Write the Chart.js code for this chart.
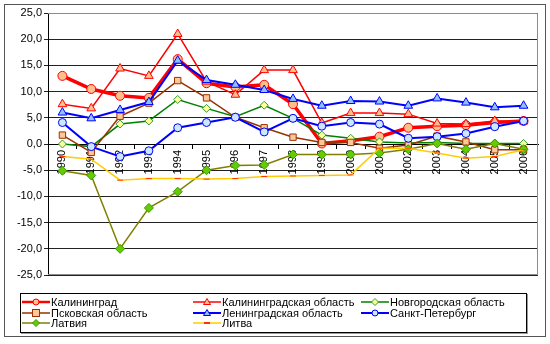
<!DOCTYPE html>
<html>
<head>
<meta charset="utf-8">
<script src="https://cdn.jsdelivr.net/npm/chart.js@4.4.0/dist/chart.umd.min.js"></script>
<style>
    body { margin: 0; background: #fff; }
    #wrap { position: relative; width: 550px; height: 344px; font-family: "Liberation Sans", Arial, sans-serif; }
    #frame { position: absolute; left: 4px; top: 4px; width: 542px; height: 333px; border: 1px solid #555; box-sizing: border-box; pointer-events: none; }
    #legend { position: absolute; left: 20px; top: 293px; width: 507px; height: 40px; border: 1px solid #000; box-sizing: border-box; box-shadow: 1px 1px 0 #999; background: #fff; }
    .item { position: absolute; height: 12px; line-height: 12px; font-size: 11px; color: #000; white-space: nowrap; }
    .item svg { vertical-align: top; margin-right: 1px; }
</style>
</head>
<body>
<div id="wrap">
    <canvas id="chart" width="550" height="344"></canvas>
    <div id="frame"></div>
    <div id="legend"></div>
</div>
<script>
// years on the x axis
var years = ['1990','1991','1992','1993','1994','1995','1996','1997','1998',
             '1999','2000','2001','2002','2003','2004','2005','2006'];

var seriesNames = ['Калининград', 'Калининградская область', 'Новгородская область',
                   'Псковская область', 'Ленинградская область', 'Санкт-Петербург',
                   'Латвия', 'Литва'];

var kaliningrad = [13.0, 10.5, 9.2, 8.8, 16.2, 11.6, 10.9, 11.3, 7.6, 0.1, 0.6, 1.4, 3.1, 3.4, 3.6, 4.1, 4.4];
var kalObl      = [7.6, 6.8, 14.4, 13.0, 21.0, 11.9, 9.4, 14.1, 14.1, 4.0, 5.9, 5.9, 5.7, 3.9, 3.8, 4.4, 4.3];
var novgorod    = [0.0, -0.5, 3.8, 4.4, 8.5, 6.8, 5.2, 7.4, 4.9, 1.7, 1.1, 0.4, 0.2, 0.3, 0.1, 0.1, 0.1];
var pskov       = [1.7, -1.6, 5.3, 7.8, 12.1, 8.8, 5.1, 3.1, 1.3, 0.3, 0.3, -0.8, -0.2, 1.5, 0.4, -1.1, -1.1];
var leningrad   = [6.0, 4.9, 6.5, 8.0, 15.9, 12.2, 11.3, 10.3, 8.6, 7.3, 8.2, 8.1, 7.3, 8.7, 7.9, 7.0, 7.3];
var spb         = [4.1, -0.5, -2.4, -1.3, 3.1, 4.1, 5.1, 2.3, 4.9, 3.4, 4.1, 3.8, 1.1, 1.4, 2.0, 3.3, 4.4];
var latvia      = [-5.1, -6.0, -20.0, -12.2, -9.1, -5.0, -4.1, -4.0, -2.0, -2.0, -2.0, -1.7, -1.0, 0.1, -1.0, 0.1, -1.0];
var lithuania   = [-2.4, -2.9, -6.9, -6.6, -6.6, -6.7, -6.6, -6.2, -6.1, -6.0, -5.9, -0.8, -0.8, -1.7, -2.7, -2.4, -1.1];

var values = [kaliningrad, kalObl, novgorod, pskov, leningrad, spb, latvia, lithuania];

// line / marker look per series
var styles = [
    { line: '#ff0000', width: 3.5, shape: 'circle',   r: 4.5, fill: '#ffbf8c', edge: '#ff0000' },
    { line: '#ff0000', width: 1.5, shape: 'triangle', r: 5,   fill: '#ffbf8c', edge: '#ff0000' },
    { line: '#008000', width: 1.5, shape: 'rectRot',  r: 4,   fill: '#ffff99', edge: '#339933' },
    { line: '#993300', width: 1.5, shape: 'rect',     r: 4.5, fill: '#ffc799', edge: '#993300' },
    { line: '#0000ff', width: 2,   shape: 'triangle', r: 5,   fill: '#8fc0ff', edge: '#0000ff' },
    { line: '#0000ff', width: 2,   shape: 'circle',   r: 4,   fill: '#cce8ff', edge: '#0000ff' },
    { line: '#808000', width: 1.5, shape: 'rectRot',  r: 4.5, fill: '#66cc00', edge: '#339900' },
    { line: '#ffcc00', width: 1.5, shape: 'line',     r: 3,   fill: '#ff0000', edge: '#ff3300' }
];

var fontFamily = '"Liberation Sans", Arial, sans-serif';

var datasets = [];
for (var i = 0; i < values.length; i++) {
    var s = styles[i];
    datasets.push({
        label: seriesNames[i],
        data: values[i],
        borderColor: s.line,
        borderWidth: s.width,
        pointStyle: s.shape,
        pointRadius: s.r,
        pointBackgroundColor: s.fill,
        pointBorderColor: s.edge,
        pointBorderWidth: 1,
        tension: 0,
        fill: false,
        order: values.length - i
    });
}

// grey frame round the plot area
var plotFrame = {
    id: 'plotFrame',
    beforeDatasetsDraw: function (chart) {
        var a = chart.chartArea, c = chart.ctx;
        c.save();
        c.strokeStyle = '#8c8c8c';
        c.lineWidth = 1;
        c.beginPath();
        c.moveTo(a.left, a.top + 0.5);
        c.lineTo(a.right - 0.5, a.top + 0.5);
        c.lineTo(a.right - 0.5, a.bottom - 0.5);
        c.lineTo(a.left, a.bottom - 0.5);
        c.stroke();
        c.restore();
    }
};

var ctx = document.getElementById('chart').getContext('2d');
new Chart(ctx, {
    type: 'line',
    data: { labels: years, datasets: datasets },
    options: {
        responsive: false,
        animation: false,
        layout: { padding: { top: 13, right: 12, bottom: 69, left: 0 } },
        plugins: { legend: { display: false }, tooltip: { enabled: false } },
        scales: {
            x: {
                position: { y: 0 },
                offset: true,
                grid: { offset: true, drawOnChartArea: false, drawTicks: true, tickLength: 4, color: '#000' },
                border: { color: '#000', width: 1 },
                ticks: {
                    autoSkip: false, minRotation: 90, maxRotation: 90, padding: 2,
                    color: '#000', font: { size: 11, family: fontFamily }
                }
            },
            y: {
                min: -25, max: 25,
                ticks: {
                    stepSize: 5, padding: 2, color: '#000',
                    font: { size: 11, family: fontFamily },
                    callback: function (v) { return v.toFixed(1).replace('.', ','); }
                },
                grid: { color: '#222', tickLength: 4 },
                border: { color: '#000', width: 1 },
                afterFit: function (scale) { scale.width = 48; }
            }
        }
    },
    plugins: [plotFrame]
});

// legend, three columns like the original
function markerSvg(s) {
    var m = '';
    var cx = 14, cy = 6;
    if (s.shape === 'circle') {
        m = '<circle cx="' + cx + '" cy="' + cy + '" r="3" fill="' + s.fill + '" stroke="' + s.edge + '"/>';
    } else if (s.shape === 'triangle') {
        m = '<polygon points="14,2.5 17.5,8.5 10.5,8.5" fill="' + s.fill + '" stroke="' + s.edge + '"/>';
    } else if (s.shape === 'rectRot') {
        m = '<polygon points="14,2.5 17.5,6 14,9.5 10.5,6" fill="' + s.fill + '" stroke="' + s.edge + '"/>';
    } else if (s.shape === 'rect') {
        m = '<rect x="10.5" y="2.5" width="7" height="7" fill="' + s.fill + '" stroke="' + s.edge + '"/>';
    } else {
        m = '<line x1="11" y1="6" x2="17" y2="6" stroke="' + s.edge + '" stroke-width="2"/>';
    }
    return '<svg width="28" height="12"><line x1="0" y1="6" x2="28" y2="6" stroke="' + s.line +
        '" stroke-width="' + Math.min(s.width, 2.5) + '"/>' + m + '</svg>';
}

var colX = [1, 172, 340];
var rowY = [2, 13, 23];
var html = '';
for (var k = 0; k < seriesNames.length; k++) {
    html += '<div class="item" style="left:' + colX[k % 3] + 'px;top:' + rowY[Math.floor(k / 3)] + 'px">' +
        markerSvg(styles[k]) + seriesNames[k] + '</div>';
}
document.getElementById('legend').innerHTML = html;
</script>
</body>
</html>
